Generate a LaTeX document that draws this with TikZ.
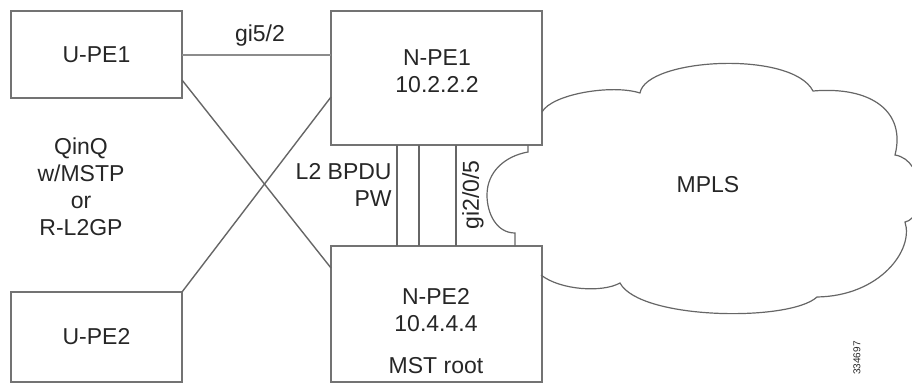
\documentclass[tikz,border=0pt]{standalone}
\usepackage{fontspec}
\setmainfont{Liberation Sans}
\usetikzlibrary{calc}

\begin{document}
\begin{tikzpicture}[x=0.5pt,y=-0.5pt]
\tikzset{box/.style={draw=black!55, line width=0.7pt, inner sep=0pt, outer sep=0pt}}
\tikzstyle{link} = [draw=black!60, line width=0.7pt]
\tikzstyle{lbl} = [text=black!85, inner sep=0pt, font=\fontsize{11.5}{13.5}\selectfont]
\useasboundingbox (0,0) rectangle (912,386);

\node (upe1) at (96.5,54.5) [box, minimum width=85.5pt, minimum height=43.5pt] {};
\node (upe2) at (96.5,337) [box, minimum width=85.5pt, minimum height=45pt] {};
\node (npe1) at (436.5,78) [box, minimum width=105.5pt, minimum height=67pt] {};
\node (npe2) at (436.5,314) [box, minimum width=105.5pt, minimum height=68pt] {};

\node (t1) at (upe1) [lbl] {U-PE1};
\node (t2) at (upe2) [lbl] {U-PE2};
\node (t3) at (437,71) [lbl, align=center] {N-PE1\\10.2.2.2};
\node (t4) at (436,310) [lbl, align=center] {N-PE2\\10.4.4.4};
\node (t5) at (436,366) [lbl] {MST root};
\node (t6) at (81,187) [lbl, align=center] {QinQ\\w/MSTP\\or\\R-L2GP};
\node (t7) at (392,185) [lbl, align=right, anchor=east] {L2 BPDU\\PW};
\node (t8) at (260,36) [lbl] {gi5/2};
\node (t9) at (473,195) [lbl, rotate=90] {gi2/0/5};
\node (t10) at (708,185) [lbl] {MPLS};
\node (t11) at (857,358) [lbl, rotate=90, font=\fontsize{5}{6}\selectfont] {334697};

\coordinate (a1) at ($(upe1.south east)+(0,-18)$);
\coordinate (a2) at ($(npe2.north west)+(0,22)$);
\coordinate (b1) at ($(npe1.south west)+(0,-48)$);
\coordinate (b2) at ($(upe2.north east)$);
\draw [link, draw=black!45, line width=1pt] (upe1.east) -- (npe1.west |- upe1.east);
\draw [link] (a1) -- (a2);
\draw [link] (b1) -- (b2);
\foreach \x in {397,419,456}
  \draw [link] (npe1.south -| \x,0) -- (npe2.north -| \x,0);

\draw [link, line width=0.6pt]
  (542,112) .. controls (552,94) and (612,84) .. (640,93)
  .. controls (646,58) and (792,50) .. (813,91)
  .. controls (872,86) and (906,112) .. (895,155)
  .. controls (926,160) and (926,218) .. (905,222)
  .. controls (914,250) and (880,296) .. (817,297)
  .. controls (790,322) and (640,320) .. (620,283)
  .. controls (602,293) and (560,290) .. (541,275);
\draw [link, line width=0.6pt]
  (528,145) -- (528,152)
  to[out=190,in=90] (487,195)
  to[out=-90,in=180] (515,233) -- (515,246);
\end{tikzpicture}
\end{document}
